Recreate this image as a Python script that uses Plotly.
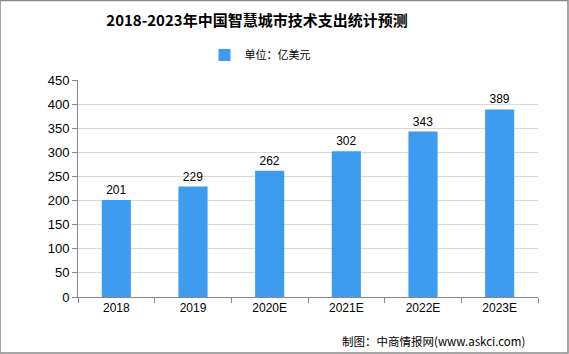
import plotly.graph_objects as go

categories = ["2018", "2019", "2020E", "2021E", "2022E", "2023E"]
values = [201, 229, 262, 302, 343, 389]
series_name = "单位：亿美元"
title = "2018-2023年中国智慧城市技术支出统计预测"
source = "制图：中商情报网(www.askci.com)"

W, H = 569, 354
fig = go.Figure()
fig.add_trace(go.Bar(
    x=categories, y=values, name=series_name,
    marker=dict(color="#3d9cf0", line=dict(width=0)),
    text=[str(v) for v in values], textposition="outside",
    textfont=dict(size=12, color="#000000", family="Liberation Sans, Noto Sans CJK SC"),
    cliponaxis=False, showlegend=True,
))
fig.update_layout(
    width=W, height=H,
    margin=dict(l=78, r=31, t=80, b=57, autoexpand=False),
    paper_bgcolor="white", plot_bgcolor="white",
    bargap=0.62,
    font=dict(family="Liberation Sans, Noto Sans CJK SC", size=12, color="#000"),
    title=dict(text="<b>" + title + "</b>", xref="container", x=257 / W, xanchor="center",
               yref="container", y=1 - 21 / H, yanchor="middle",
               font=dict(size=15, family="Noto Sans CJK SC", color="#000")),
    legend=dict(orientation="h", xref="container", x=260 / W, xanchor="center",
                yref="container", y=1 - 55 / H, yanchor="middle",
                font=dict(size=11, family="Noto Sans CJK SC"), itemwidth=30, bgcolor="rgba(0,0,0,0)"),
    xaxis=dict(showline=True, linecolor="#888", linewidth=1, ticks="outside", tickson="boundaries",
               ticklen=5, tickcolor="#888", showgrid=False, tickfont=dict(size=12)),
    yaxis=dict(range=[0, 450], dtick=50, showline=True, linecolor="#888", linewidth=1, ticks="outside",
               ticklen=5, tickcolor="#888", gridcolor="#d9d9d9", gridwidth=1, tickfont=dict(size=13),
               zeroline=False),
    shapes=[dict(type="rect", xref="paper", yref="paper", x0=-78 / 460, x1=1 + 30 / 460,
                 y0=-56 / 217, y1=1 + 79.5 / 217, line=dict(color="#888", width=1.5), fillcolor="rgba(0,0,0,0)")],
    annotations=[dict(text=source, xref="paper", yref="paper", x=1 - 11 / 460, xanchor="right",
                      y=-44 / 217, yanchor="middle", showarrow=False,
                      font=dict(size=11.5, family="Noto Sans CJK SC", color="#000"))],
)
fig.write_html("out.html")
